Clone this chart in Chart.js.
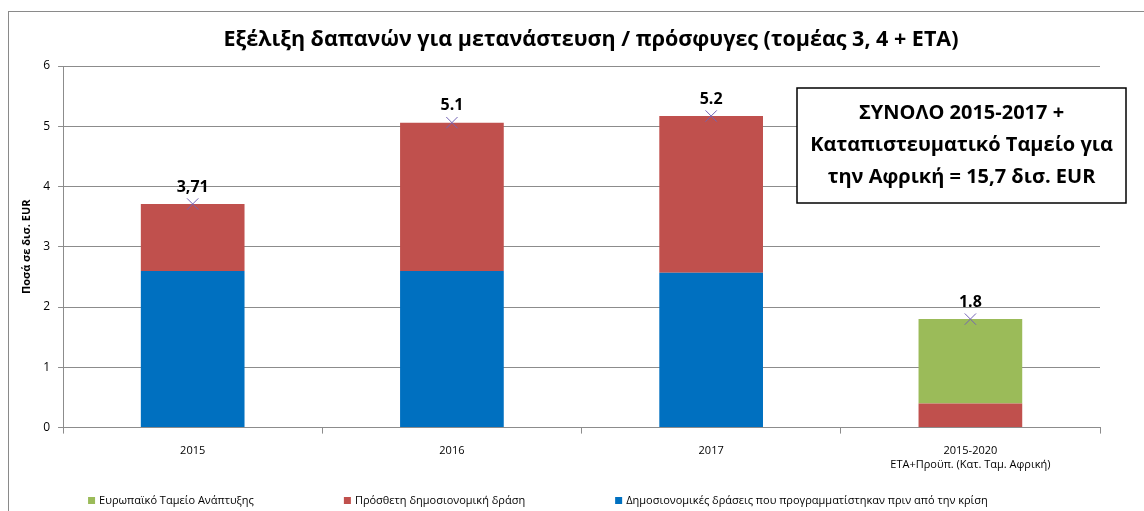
<!DOCTYPE html>
<html>
<head>
<meta charset="utf-8">
<script src="https://cdn.jsdelivr.net/npm/chart.js@4.4.1/dist/chart.umd.min.js"></script>
<style>
  html, body { margin: 0; padding: 0; background: #fff; overflow: hidden; }
  #frame { position: absolute; left: 8px; top: 11px; width: 1166px; height: 520px; border: 1px solid #8a8a8a; }
  #chart { position: absolute; left: 0; top: 0; }
</style>
</head>
<body>
<div id="frame"><canvas id="chart" width="1164" height="499"></canvas></div>
<script>
var categories = [['2015'], ['2016'], ['2017'], ['2015-2020', 'ΕΤΑ+Προϋπ. (Κατ. Ταμ. Αφρική)']];
var plannedBefore = [2.6, 2.6, 2.57, 0];     // blue
var additional = [1.11, 2.46, 2.6, 0.4];      // red
var edf = [0, 0, 0, 1.4];                     // green
var totalLabels = ['3,71', '5.1', '5.2', '1.8'];
var yTicks = [0, 1, 2, 3, 4, 5, 6];
var chartTitle = 'Εξέλιξη δαπανών για μετανάστευση / πρόσφυγες (τομέας 3, 4 + ΕΤΑ)';

var totals = plannedBefore.map(function (v, i) { return v + additional[i] + edf[i]; });
var font = "'Open Sans', sans-serif";

var extras = {
    id: 'extras',
    afterDraw: function (chart) {
        var ctx = chart.ctx, x = chart.scales.x, y = chart.scales.y, a = chart.chartArea;
        ctx.save();
        // title, centred on the whole chart frame
        ctx.font = 'bold 21.5px ' + font;
        ctx.fillStyle = '#000';
        ctx.textAlign = 'center';
        ctx.textBaseline = 'middle';
        ctx.fillText(chartTitle, chart.width / 2, 28);
        // values above the bars
        ctx.font = 'bold 16px ' + font;
        ctx.textBaseline = 'bottom';
        totals.forEach(function (t, i) {
            ctx.fillText(totalLabels[i], x.getPixelForValue(i), y.getPixelForValue(t) - 9);
        });
        // summary box
        var bx = a.right - 303, by = a.top + 22, bw = 329, bh = 115;
        ctx.fillStyle = '#fff';
        ctx.fillRect(bx, by, bw, bh);
        ctx.strokeStyle = '#000';
        ctx.lineWidth = 1.5;
        ctx.strokeRect(bx, by, bw, bh);
        ctx.fillStyle = '#000';
        ctx.font = 'bold 20px ' + font;
        ctx.textBaseline = 'middle';
        var lines = ['ΣΥΝΟΛΟ 2015-2017 +', 'Καταπιστευματικό Ταμείο για', 'την Αφρική = 15,7 δισ. EUR'];
        lines.forEach(function (l, i) {
            ctx.fillText(l, bx + bw / 2, by + 25 + i * 32);
        });
        // legend (reverse dataset order, bar datasets only)
        ctx.font = '11px ' + font;
        ctx.textAlign = 'left';
        var lx = a.left + 25, ly = chart.height - 10;
        chart.data.datasets.slice(0, 3).reverse().forEach(function (ds) {
            ctx.fillStyle = ds.backgroundColor;
            ctx.fillRect(lx, ly - 4, 7, 7);
            ctx.fillStyle = '#000';
            ctx.fillText(ds.label, lx + 11, ly);
            lx += 11 + ctx.measureText(ds.label).width + 90;
        });
        ctx.restore();
    }
};

new Chart(document.getElementById('chart'), {
    type: 'bar',
    data: {
        labels: categories,
        datasets: [{
            label: 'Δημοσιονομικές δράσεις που προγραμματίστηκαν πριν από την κρίση',
            data: plannedBefore,
            backgroundColor: '#0070C0',
            stack: 's'
        }, {
            label: 'Πρόσθετη δημοσιονομική δράση',
            data: additional,
            backgroundColor: '#C0504D',
            stack: 's'
        }, {
            label: 'Ευρωπαϊκό Ταμείο Ανάπτυξης',
            data: edf,
            backgroundColor: '#9BBB59',
            stack: 's'
        }, {
            type: 'line',
            label: 'total',
            data: totals,
            stack: 'marker',
            order: -1,
            showLine: false,
            pointStyle: 'crossRot',
            pointRadius: 8,
            borderColor: '#7464B4',
            borderWidth: 1,
            backgroundColor: '#7464B4'
        }]
    },
    options: {
        responsive: false,
        animation: false,
        barPercentage: 0.4,
        categoryPercentage: 1,
        layout: { padding: { left: 7, right: 73, top: 54, bottom: 29 } },
        plugins: {
            title: { display: false },
            legend: { display: false },
            tooltip: { enabled: false }
        },
        scales: {
            x: {
                stacked: true,
                grid: { display: true, offset: true, drawOnChartArea: false, tickLength: 6, color: '#8c8c8c' },
                border: { color: '#8c8c8c' },
                ticks: { color: '#000', font: { family: font, size: 11 }, padding: 11 }
            },
            y: {
                stacked: true,
                min: 0,
                max: 6,
                afterBuildTicks: function (s) { s.ticks = yTicks.map(function (v) { return { value: v }; }); },
                grid: { color: '#8c8c8c', tickLength: 5 },
                border: { color: '#8c8c8c' },
                ticks: { color: '#000', font: { family: font, size: 12 }, padding: 8 },
                title: {
                    display: true,
                    text: 'Ποσά σε δισ. EUR',
                    color: '#000',
                    font: { family: font, size: 11, weight: 'bold' },
                    padding: { bottom: 2 }
                }
            }
        }
    },
    plugins: [extras]
});
</script>
</body>
</html>
